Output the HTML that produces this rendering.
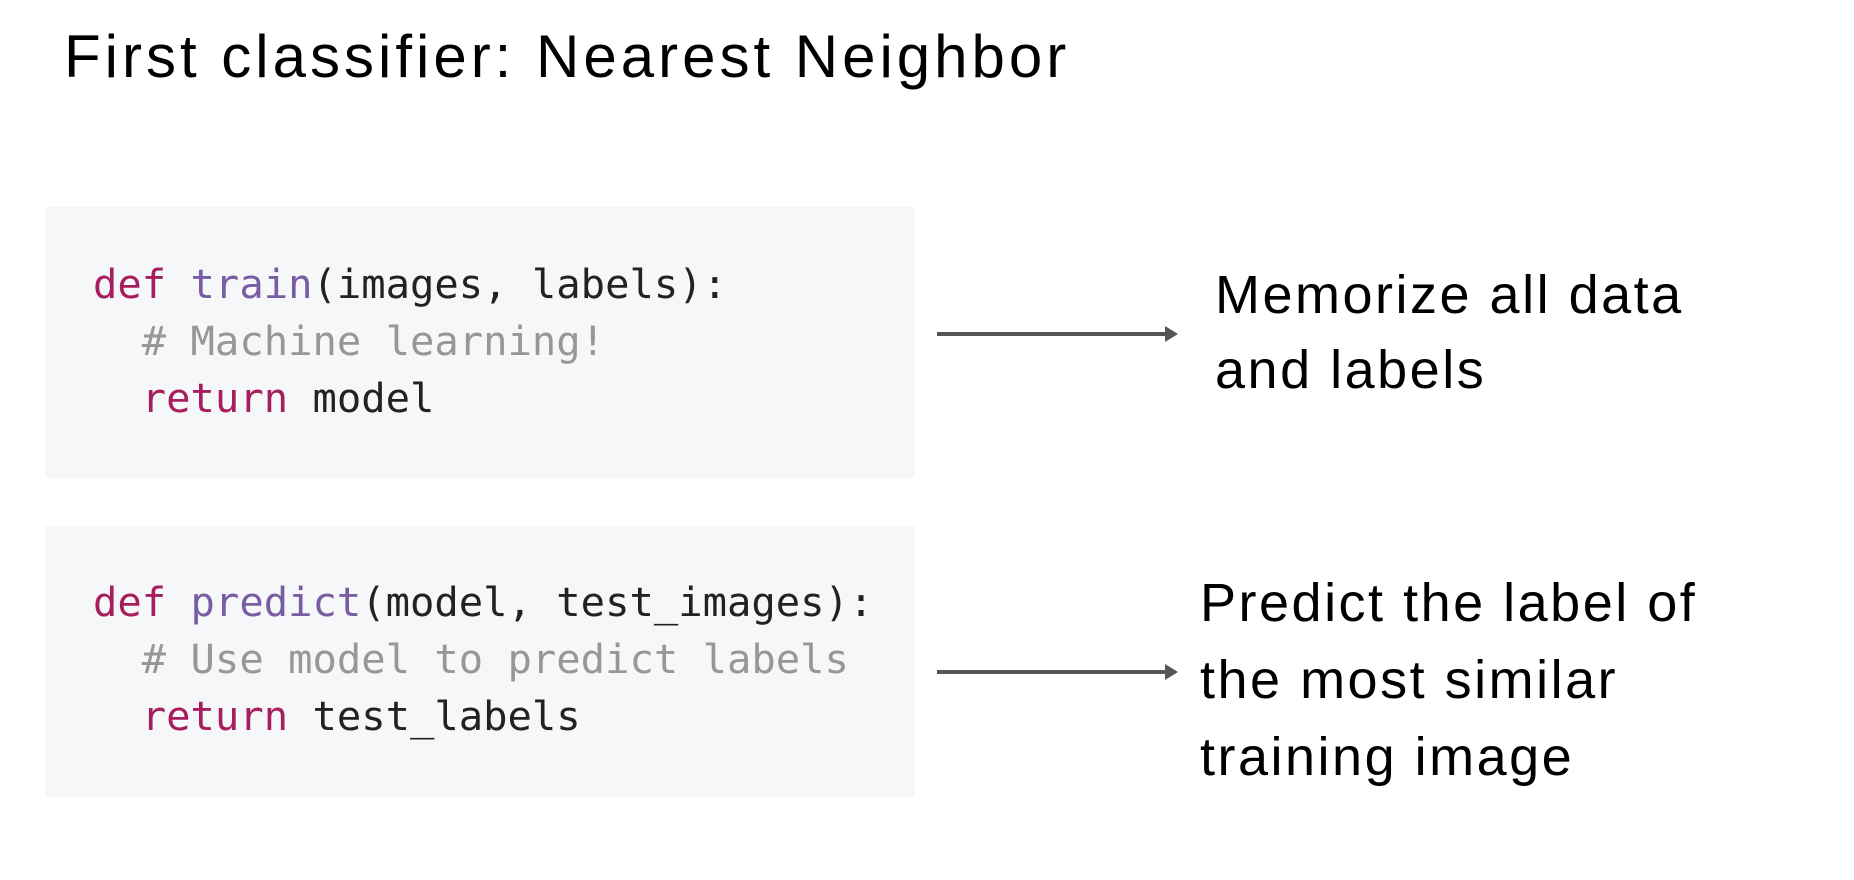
<!DOCTYPE html>
<html><head><meta charset="utf-8"><style>
body{margin:0;width:1854px;height:880px;background:#fff;position:relative;overflow:hidden;font-family:"Liberation Sans",sans-serif;}
.t{position:absolute;white-space:nowrap;color:#000;}
.box{position:absolute;left:45px;width:870px;background:#f6f7f9;}
.code{position:absolute;font-family:"DejaVu Sans Mono","Liberation Mono",monospace;font-size:40.5px;color:#222;white-space:pre;line-height:57px;}
.k{color:#a71d5d}.f{color:#795da3}.c{color:#969896}
.arr{position:absolute;left:937px;width:229px;height:4px;background:#555;}
.arr:after{content:"";position:absolute;right:-12px;top:-6px;border-left:13px solid #555;border-top:8px solid transparent;border-bottom:8px solid transparent;}
.lab{position:absolute;font-size:54px;line-height:75px;color:#000;letter-spacing:2.5px;}
</style></head><body>
<div class="t" style="left:64px;top:22px;font-size:60px;letter-spacing:4px;">First classifier: Nearest Neighbor</div>
<div class="box" style="top:207px;height:271px;"></div>
<div class="box" style="top:526px;height:271px;"></div>
<div class="code" style="left:93px;top:256px;"><span class="k">def</span> <span class="f">train</span>(images, labels):
  <span class="c"># Machine learning!</span>
  <span class="k">return</span> model</div>
<div class="code" style="left:93px;top:574px;"><span class="k">def</span> <span class="f">predict</span>(model, test_images):
  <span class="c"># Use model to predict labels</span>
  <span class="k">return</span> test_labels</div>
<div class="arr" style="top:332px;"></div>
<div class="arr" style="top:670px;"></div>
<div class="lab" style="left:1215px;top:258px;">Memorize all data<br>and labels</div>
<div class="lab" style="left:1200px;top:565px;line-height:77px;">Predict the label of<br>the most similar<br>training image</div>
</body></html>
